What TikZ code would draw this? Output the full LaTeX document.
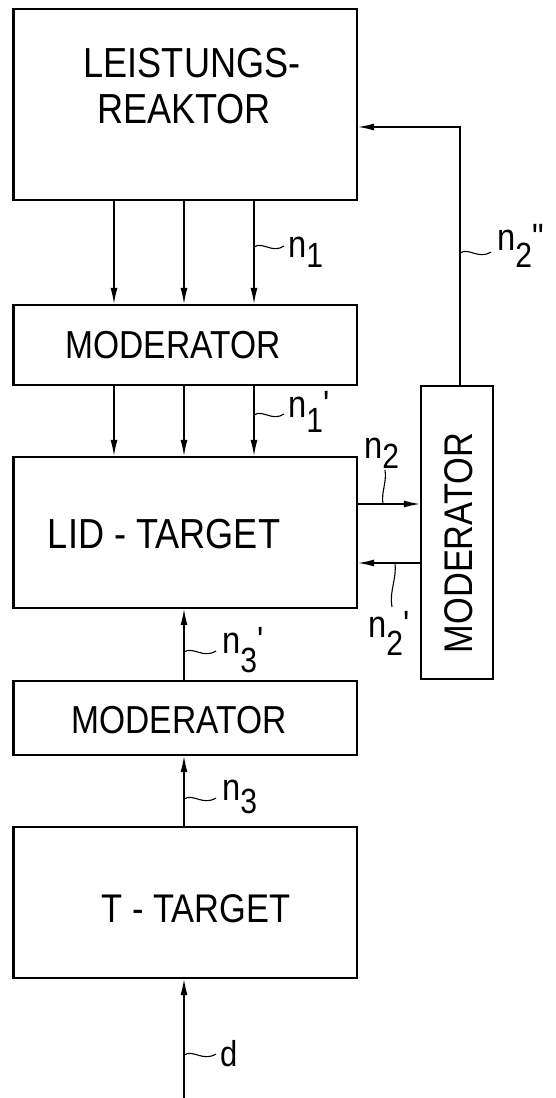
\documentclass[tikz,border=0pt]{standalone}
\usepackage{fontspec}
\newfontfamily\df[FakeStretch=0.86]{Liberation Sans}
\usetikzlibrary{arrows.meta}
\begin{document}
\begin{tikzpicture}[x=1pt,y=-1pt,
  box/.style={draw,line width=2.2pt,inner sep=0pt,minimum width=343.5pt},
  txt/.style={font=\df\fontsize{42}{42}\selectfont,inner sep=0pt,anchor=base},
  lab/.style={font=\df\fontsize{38}{38}\selectfont,inner sep=0pt,anchor=base west},
  arr/.style={line width=1.3pt,-{Latex[length=16pt,width=7pt]}},
  lead/.style={line width=1.1pt}]
\useasboundingbox (0,0) rectangle (556,1098);
% boxes
\node[box,minimum height=191pt] (reak) at (185.25,104.5) {};
\node[box,minimum height=80pt] (mod1) at (185.25,345) {};
\node[box,minimum height=151pt] (lid) at (185.25,532.5) {};
\node[box,minimum width=72pt,minimum height=293pt] (modr) at (457,532.5) {};
\node[box,minimum height=74pt] (mod2) at (185.25,718) {};
\node[box,minimum height=151pt] (tt) at (185.25,902.5) {};
% texts
\node[txt] (t1) at (192,77) {LEISTUNGS-};
\node[txt] (t2) at (184,123) {REAKTOR};
\node[txt,font=\df\fontsize{39}{39}\selectfont] (t3) at (173,358) {MODERATOR};
\node[txt] (t4) at (164,548) {LID - TARGET};
\node[txt,font=\df\fontsize{39}{39}\selectfont] (t5) at (179,733) {MODERATOR};
\node[txt,font=\df\fontsize{40}{40}\selectfont] (t6) at (196,922) {T - TARGET};
\node[txt,font=\df\fontsize{40}{40}\selectfont,rotate=90] (t7) at (472,543) {MODERATOR};
% arrows reactor -> moderator
\foreach \s in {-71.25,-1.25,68.75}{
  \draw[arr] ([xshift=\s pt]reak.south) -- ([xshift=\s pt]mod1.north);
  \draw[arr] ([xshift=\s pt]mod1.south) -- ([xshift=\s pt]lid.north);
}
\draw[arr] ([yshift=28.5pt]lid.east) -- ([yshift=28.5pt]modr.west);
\draw[arr] ([yshift=-30.5pt]modr.west) -- ([yshift=-30.5pt]lid.east);
\draw[arr] ([xshift=3pt]modr.north) |- ([yshift=-22.5pt]reak.east);
\draw[arr] ([xshift=-1.25pt]mod2.north) -- ([xshift=-1.25pt]lid.south);
\draw[arr] ([xshift=-1.25pt]tt.north) -- ([xshift=-1.25pt]mod2.south);
\coordinate (din) at (184,1098);
\draw[arr] (din) -- ([xshift=-1.25pt]tt.south);
% labels
\node[lab] (l1) at (288,257) {n{\fontsize{35}{35}\selectfont\raisebox{-10pt}{1}}};
\node[lab] (l2) at (288,417) {n{\fontsize{35}{35}\selectfont\raisebox{-15pt}{1}}'};
\node[lab] (l3) at (497,250) {n{\fontsize{35}{35}\selectfont\raisebox{-17pt}{2}}"};
\node[lab] (l4) at (364,458) {n{\fontsize{35}{35}\selectfont\raisebox{-10pt}{2}}};
\node[lab] (l5) at (368,637) {n{\fontsize{35}{35}\selectfont\raisebox{-18pt}{2}}'};
\node[lab] (l6) at (222,653) {n{\fontsize{35}{35}\selectfont\raisebox{-19pt}{3}}'};
\node[lab] (l7) at (222,800) {n{\fontsize{35}{35}\selectfont\raisebox{-13pt}{3}}};
\node[lab,font=\df\fontsize{36}{36}\selectfont] (l8) at (220,1066) {d};
% leaders
\draw[lead] (254,247) .. controls (263,241) and (272,254) .. (284,246);
\draw[lead] (254,415) .. controls (263,409) and (272,422) .. (284,414);
\draw[lead] (460,253) .. controls (469,247) and (478,260) .. (491,252);
\draw[lead] (184,652) .. controls (193,646) and (203,659) .. (216,651);
\draw[lead] (184,799) .. controls (193,793) and (203,806) .. (216,798);
\draw[lead] (184,1055) .. controls (193,1049) and (203,1062) .. (216,1054);
\draw[lead] (383,504) .. controls (381,492) and (387,482) .. (385,470);
\draw[lead] (395,563) .. controls (397,578) and (389,592) .. (392,607);
\end{tikzpicture}
\end{document}
